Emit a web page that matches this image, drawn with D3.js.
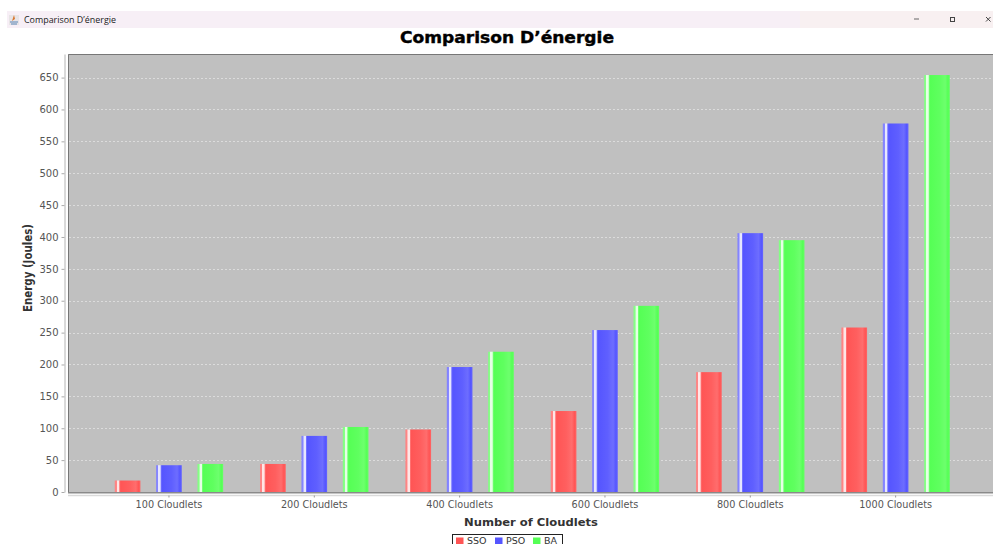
<!DOCTYPE html>
<html>
<head>
<meta charset="utf-8">
<style>
  html, body { margin: 0; padding: 0; background: #fff; }
  svg { display: block; }
  text { font-family: "DejaVu Sans", sans-serif; }
</style>
<script src="https://cdn.jsdelivr.net/npm/d3@7"></script>
</head>
<body>
<svg id="chart" width="993" height="544"></svg>
<script>
const windowTitle = "Comparison D’énergie";
const chartTitle = "Comparison D’énergie";
const xAxisTitle = "Number of Cloudlets";
const yAxisTitle = "Energy (Joules)";
const categories = ["100 Cloudlets", "200 Cloudlets", "400 Cloudlets", "600 Cloudlets", "800 Cloudlets", "1000 Cloudlets"];
const seriesNames = ["SSO", "PSO", "BA"];
const seriesColors = ["#ff5555", "#5555ff", "#55ff55"];
const ssoValues = [18, 44, 98, 127, 188, 258];
const psoValues = [42, 88, 196, 254, 406, 578];
const baValues = [44, 102, 220, 292, 395, 654];
const yTicks = [0, 50, 100, 150, 200, 250, 300, 350, 400, 450, 500, 550, 600, 650];
const seriesValues = [ssoValues, psoValues, baValues];

const svg = d3.select("#chart");
const plot = { left: 68, right: 993, top: 54, bottom: 492 };

const x = d3.scaleBand().domain(categories).range([96.3, 968.3]);
const xInner = d3.scaleBand().domain(seriesNames).range([-54.2, 54.2]).paddingInner(0.38);
const y = d3.scaleLinear().domain([0, 687]).range([plot.bottom, plot.top]);

// Window title bar
svg.append("rect").attr("x", 7).attr("y", 11).attr("width", 986).attr("height", 17).attr("fill", "#f7eff6");
svg.append("rect").attr("x", 800).attr("y", 11).attr("width", 193).attr("height", 17).attr("fill", "#f8f0f1");
const icon = svg.append("g").attr("transform", "translate(9,15)");
icon.append("rect").attr("width", 10).attr("height", 10).attr("fill", "#e8e4e6");
icon.append("path").attr("d", "M5 0 L6 4 L3 6 Z").attr("fill", "#d9772f");
icon.append("path").attr("d", "M1 7 H9 M2 9 H8").attr("stroke", "#5a86b8").attr("stroke-width", 1.2);
svg.append("text").attr("x", 24).attr("y", 23).attr("font-size", 9).attr("fill", "#222")
  .style("font-family", "'Open Sans', sans-serif")
  .attr("textLength", 92).attr("lengthAdjust", "spacingAndGlyphs").text(windowTitle);
svg.append("path").attr("d", "M914 19 H919").attr("stroke", "#666").attr("stroke-width", 1);
svg.append("rect").attr("x", 950.5).attr("y", 17.5).attr("width", 4).attr("height", 4).attr("fill", "none").attr("stroke", "#444");
svg.append("path").attr("d", "M986 17 L990.5 21.5 M990.5 17 L986 21.5").attr("stroke", "#444").attr("stroke-width", 1);

// Chart title
svg.append("text").attr("x", 507).attr("y", 43).attr("text-anchor", "middle")
  .attr("font-size", 15).attr("font-weight", 700).attr("fill", "#000")
  .attr("stroke", "#000").attr("stroke-width", 0.4)
  .attr("textLength", 214).attr("lengthAdjust", "spacingAndGlyphs").text(chartTitle);

// Plot background and outline
svg.append("rect").attr("x", plot.left).attr("y", plot.top)
  .attr("width", plot.right - plot.left).attr("height", plot.bottom - plot.top).attr("fill", "#c0c0c0");
svg.append("path").attr("d", `M${plot.left + 0.5} ${plot.bottom} V${plot.top + 0.5} H${plot.right}`)
  .attr("fill", "none").attr("stroke", "#777").attr("stroke-width", 1);

// Dashed horizontal gridlines
svg.append("g").selectAll("line").data(yTicks.filter(d => d > 0)).join("line")
  .attr("x1", plot.left + 1).attr("x2", plot.right)
  .attr("y1", d => Math.round(y(d)) + 0.5).attr("y2", d => Math.round(y(d)) + 0.5)
  .attr("stroke", "#dcdcdc").attr("stroke-width", 1).attr("stroke-dasharray", "2 2");

// Bar shading: bright streak near the left edge, slightly lighter band on the right
const defs = svg.append("defs");
seriesNames.forEach((name, i) => {
  const c = d3.color(seriesColors[i]);
  const light = d3.interpolateRgb(c, "#ffffff");
  const stops = [
    [0, light(0.25)], [0.07, light(0.3)], [0.09, light(0.85)], [0.16, light(0.85)], [0.19, light(0.2)], [0.23, c],
    [0.6, light(0.06)], [0.82, light(0.14)], [0.93, c], [1, light(0.1)]
  ];
  const g = defs.append("linearGradient").attr("id", `bar-${name}`).attr("x1", 0).attr("x2", 1).attr("y1", 0).attr("y2", 0);
  stops.forEach(s => g.append("stop").attr("offset", s[0]).attr("stop-color", s[1]));
});

// Bars
const groups = svg.append("g").selectAll("g").data(seriesNames).join("g");
groups.each(function(name, si) {
  d3.select(this).selectAll("rect").data(seriesValues[si]).join("rect")
    .attr("x", (d, i) => x(categories[i]) + x.bandwidth() / 2 + xInner(name))
    .attr("width", xInner.bandwidth())
    .attr("y", d => y(d))
    .attr("height", d => y(0) - y(d))
    .attr("fill", `url(#bar-${name})`);
});

// Plot baseline
svg.append("rect").attr("x", plot.left).attr("y", plot.bottom).attr("width", plot.right - plot.left).attr("height", 1.5).attr("fill", "#8a8a8a");

// Axes
const xAxis = d3.axisBottom(x).tickSizeInner(2).tickSizeOuter(0).tickPadding(4);
const gx = svg.append("g").attr("transform", `translate(0,${plot.bottom + 3.5})`).call(xAxis);
gx.select(".domain").remove();
gx.insert("line", ":first-child").attr("x1", plot.left).attr("x2", plot.right)
  .attr("stroke", "#dadada").attr("stroke-width", 1.5);
gx.selectAll(".tick line").attr("stroke", "#999");
gx.selectAll("text").attr("font-size", 9.7).attr("fill", "#555").attr("font-family", "DejaVu Sans");

const yAxis = d3.axisLeft(y).tickValues(yTicks).tickSizeInner(3).tickSizeOuter(0).tickPadding(3);
const gy = svg.append("g").attr("transform", `translate(${plot.left - 3.5},0)`).call(yAxis);
gy.select(".domain").attr("stroke", "#b4b4b4").attr("stroke-width", 1);
gy.selectAll(".tick line").attr("stroke", "#aaa");
gy.selectAll("text").attr("font-size", 10).attr("fill", "#555").attr("font-family", "DejaVu Sans");

// Axis titles
svg.append("text").attr("x", 531).attr("y", 525.5).attr("text-anchor", "middle")
  .attr("font-size", 10.5).attr("font-weight", 700).attr("fill", "#333")
  .attr("textLength", 134).attr("lengthAdjust", "spacingAndGlyphs").text(xAxisTitle);
svg.append("text").attr("transform", "translate(32,268) rotate(-90)").attr("text-anchor", "middle")
  .attr("font-size", 12.5).attr("font-weight", 700).attr("fill", "#333")
  .attr("textLength", 88).attr("lengthAdjust", "spacingAndGlyphs").text(yAxisTitle);

// Legend along the bottom edge of the window
const legend = svg.append("g");
legend.append("rect").attr("x", 452.5).attr("y", 534.5).attr("width", 110).attr("height", 16)
  .attr("fill", "#fff").attr("stroke", "#222").attr("stroke-width", 1);
const legendSwatchX = { SSO: 456, PSO: 495, BA: 533 };
seriesNames.forEach((name, i) => {
  legend.append("rect").attr("x", legendSwatchX[name]).attr("y", 537.5).attr("width", 7.5).attr("height", 6.5).attr("fill", seriesColors[i]);
  legend.append("text").attr("x", legendSwatchX[name] + 11).attr("y", 543.5).attr("font-size", 9.5).attr("fill", "#333").text(name);
});
</script>
</body>
</html>
